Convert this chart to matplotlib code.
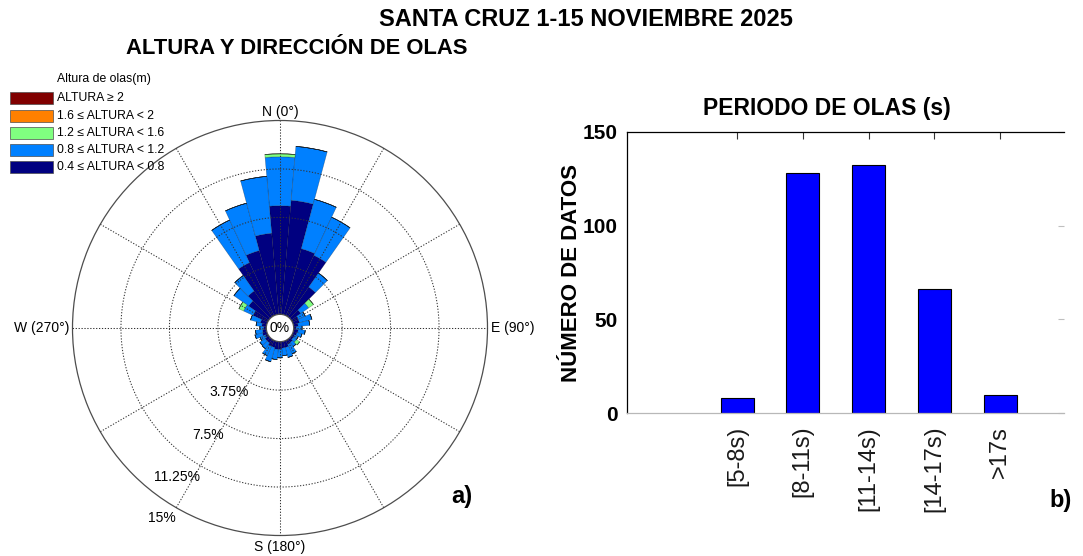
import numpy as np
import matplotlib
matplotlib.use("Agg")
import matplotlib.pyplot as plt
from matplotlib.patches import Rectangle

plt.rcParams['font.family'] = ['Liberation Sans', 'DejaVu Sans']

# ---------------- data ----------------
# wave direction bins (compass degrees, bin centres, 10 deg wide)
directions = list(range(0, 360, 10))
# percentage of records per direction bin, by height class
pct_04_08 = [8.40, 8.86, 5.29, 5.14, 2.81, 0.90, 0.50, 0.50, 0.35, 0.20,
             0.35, 0.30, 0.20, 0.20, 0.30, 0.35, 0.50, 0.50, 0.60, 0.60,
             0.50, 0.50, 0.35, 0.35, 0.20, 0.35, 0.30, 0.20, 0.35, 0.50,
             1.25, 1.90, 2.43, 4.52, 5.14, 6.30]
pct_08_12 = [3.79, 4.19, 3.96, 3.26, 1.32, 0.75, 0.60, 1.00, 0.90, 0.45,
             0.55, 0.40, 0.30, 0.30, 0.40, 0.80, 0.80, 0.60, 0.65, 0.80,
             1.15, 0.80, 0.55, 0.50, 0.45, 0.60, 0.55, 0.30, 0.45, 0.80,
             0.80, 1.40, 1.47, 3.64, 3.80, 4.42]
pct_12_16 = [0.23, 0.0, 0.0, 0.0, 0.0, 0.45, 0.0, 0.0, 0.0, 0.0,
             0.0, 0.0, 0.0, 0.30, 0.0, 0.0, 0.0, 0.0, 0.0, 0.0,
             0.0, 0.0, 0.0, 0.0, 0.0, 0.0, 0.0, 0.0, 0.0, 0.0,
             0.40, 0.0, 0.0, 0.0, 0.0, 0.0]
pct_16_2 = [0.0] * 36
pct_ge2 = [0.0] * 36

class_labels = ['0.4 \u2264 ALTURA < 0.8', '0.8 \u2264 ALTURA < 1.2',
                '1.2 \u2264 ALTURA < 1.6', '1.6 \u2264 ALTURA < 2',
                'ALTURA \u2265 2']
class_colors = ['#000080', '#0080FF', '#80FF80', '#FF8000', '#800000']

ring_values = [3.75, 7.5, 11.25, 15]
ring_labels = ['3.75%', '7.5%', '11.25%', '15%']

period_labels = ['[5-8s)', '[8-11s)', '[11-14s)', '[14-17s)', '>17s']
period_counts = [8, 128, 132, 66, 10]

# ---------------- figure ----------------
W, H = 1083, 556
fig = plt.figure(figsize=(W / 100, H / 100), dpi=100)
fig.patch.set_facecolor('white')

def fx(px):
    return px / W

def fy(py):
    return 1 - py / H

# ---------- wind-rose (polar) ----------
cx, cy, R, r0 = 280, 328, 207.5, 13.7
rmax = 15.0
pax = fig.add_axes([fx(cx - R), fy(cy + R), 2 * R / W, 2 * R / H], projection='polar')
pax.set_theta_zero_location('N')
pax.set_theta_direction(-1)
pax.set_ylim(0, rmax)
pax.set_rorigin(-rmax * r0 / (R - r0))
pax.grid(False)
pax.set_xticks([])
pax.set_yticks([])

theta = np.deg2rad(directions)
width = np.deg2rad(10)
bottom = np.zeros(36)
series = [pct_04_08, pct_08_12, pct_12_16, pct_16_2, pct_ge2]
for vals, col in zip(series, class_colors):
    vals = np.asarray(vals, dtype=float)
    pax.bar(theta, vals, width=width, bottom=bottom, color=col,
            edgecolor=(0, 0, 0, 0.35), linewidth=0.4, zorder=2)
    bottom = bottom + vals

# grid circles & spokes
tt = np.linspace(0, 2 * np.pi, 400)
for rv in ring_values[:-1]:
    pax.plot(tt, np.full_like(tt, rv), linestyle=(0, (1.2, 1.6)), color='0.2',
             linewidth=0.75, zorder=3)
for ang in range(0, 360, 30):
    pax.plot([np.deg2rad(ang)] * 2, [0, rmax], linestyle=(0, (1.2, 1.6)),
             color='0.2', linewidth=0.75, zorder=3)
for name, sp in pax.spines.items():
    sp.set_color('0.3')
    sp.set_linewidth(0.9)

pax.text(0.5, 0.5, '0%', transform=pax.transAxes, ha='center', va='center',
         fontsize=10, zorder=5)

def pct_of_px(p):
    return (p - r0) / (R - r0) * rmax

label_pos = [(218.6, 81.8), (213.9, 129.0), (214.7, 181.1), (211.8, 223.7)]
for lab, (ang, rp) in zip(ring_labels, label_pos):
    pax.text(np.deg2rad(ang), pct_of_px(rp), lab, ha='center', va='center',
             fontsize=10, zorder=5)

pax.text(0, pct_of_px(216), 'N (0\u00b0)', ha='center', va='center', fontsize=10)
pax.text(np.deg2rad(180), pct_of_px(219), 'S (180\u00b0)', ha='center', va='center', fontsize=10)
pax.text(np.deg2rad(90), pct_of_px(211), 'E (90\u00b0)', ha='left', va='center', fontsize=10)
pax.text(np.deg2rad(270), pct_of_px(211), 'W (270\u00b0)', ha='right', va='center', fontsize=10)

# ---------- bar chart ----------
bl, br, bt, bb = 627, 1064, 131.7, 413.3
bax = fig.add_axes([fx(bl), fy(bb), (br - bl) / W, (bb - bt) / H])
xpos = np.arange(len(period_counts))
bax.bar(xpos, period_counts, width=0.5, color='#0000FF', edgecolor='black',
        linewidth=0.8, zorder=2)
bax.set_xlim(-1.673, 4.97)
bax.set_ylim(0, 150)
bax.set_yticks([0, 50, 100, 150])
bax.set_yticklabels(['0', '50', '100', '150'], fontsize=15, fontweight='bold')
bax.set_xticks(xpos)
bax.set_xticklabels(period_labels, rotation=90, fontsize=17, color='0.1')
bax.tick_params(axis='x', bottom=False, top=True, direction='in', length=5,
                pad=9, color='0.2')
bax.tick_params(axis='y', left=False, right=True, direction='in', length=4,
                pad=7, color='0.75')
bax.spines['left'].set_color('black')
bax.spines['top'].set_color('black')
bax.spines['bottom'].set_color('0.72')
bax.spines['right'].set_visible(False)
for sp in bax.spines.values():
    sp.set_linewidth(0.9)
bax.set_ylabel('N\u00daMERO DE DATOS', fontsize=16, fontweight='bold', labelpad=0)

# ---------- texts ----------
fig.text(fx(586), fy(20), 'SANTA CRUZ 1-15 NOVIEMBRE 2025', ha='center', va='center',
         fontsize=17, fontweight='bold')
fig.text(fx(297), fy(48), 'ALTURA Y DIRECCI\u00d3N DE OLAS', ha='center', va='center',
         fontsize=15.8, fontweight='bold')
fig.text(fx(827), fy(108), 'PERIODO DE OLAS (s)', ha='center', va='center',
         fontsize=16.5, fontweight='bold')
fig.text(fx(462), fy(497), 'a)', ha='center', va='center', fontsize=17, fontweight='bold')
fig.text(fx(1061), fy(500), 'b)', ha='center', va='center', fontsize=17, fontweight='bold')

# ---------- legend (manual) ----------
fig.text(fx(57), fy(79), 'Altura de olas(m)', ha='left', va='center', fontsize=8.8)
rows_y = [98, 116, 133, 150, 167]
for yy, lab, col in zip(rows_y, class_labels[::-1], class_colors[::-1]):
    fig.add_artist(Rectangle((fx(10), fy(yy + 6)), fx(43), 12 / H, facecolor=col,
                             edgecolor='0.3', linewidth=0.5, transform=fig.transFigure))
    fig.text(fx(57), fy(yy), lab, ha='left', va='center', fontsize=8.8)

fig.savefig('out.png', dpi=100)
